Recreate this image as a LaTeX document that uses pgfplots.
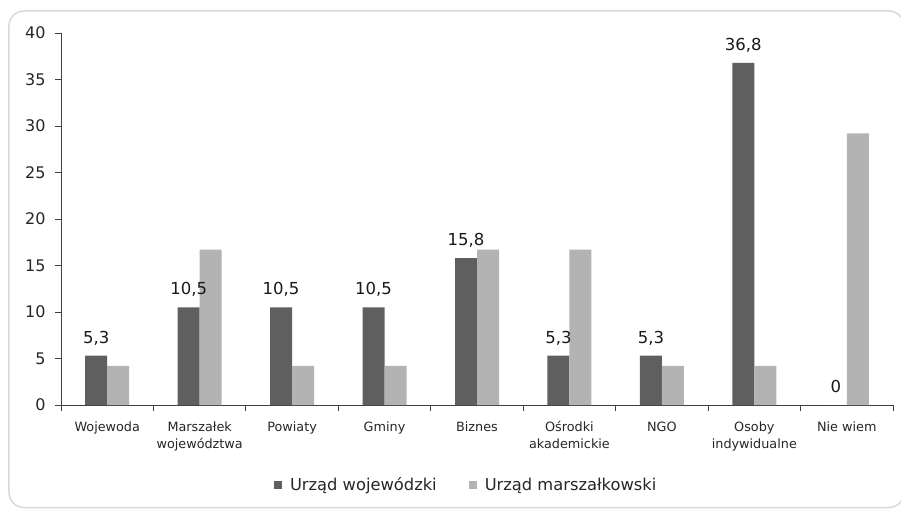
\documentclass[border=0pt]{standalone}
\usepackage{pgfplots}
\pgfplotsset{compat=1.18}
\usepackage{fontspec}
\setmainfont{DejaVu Sans}
\definecolor{darkbar}{HTML}{5F5F5F}
\definecolor{lightbar}{HTML}{B3B3B3}
\definecolor{axcol}{HTML}{404040}
\definecolor{framecol}{HTML}{D9D9D9}
\begin{document}
\begin{tikzpicture}
\useasboundingbox (-61pt,-103pt) rectangle (840pt,405pt);
\draw[framecol, line width=1.5pt, rounded corners=15pt] (-52pt,-102.5pt) rectangle (843pt,394pt);
\begin{axis}[
  at={(0pt,0pt)}, anchor=south west,
  width=832pt, height=372pt, scale only axis,
  ybar, bar width=22pt,
  xmin=-0.5, xmax=8.5, ymin=0, ymax=40,
  ytick={0,5,...,40},
  xtick={-0.5,0.5,...,8.5},
  x tick label as interval,
  xticklabels={Wojewoda,{Marszałek\\województwa},Powiaty,Gminy,Biznes,{Ośrodki\\akademickie},NGO,{Osoby\\indywidualne},Nie wiem},
  axis x line*=bottom, axis y line*=left,
  axis line style={axcol, line width=0.8pt, -},
  tick style={axcol, line width=0.8pt},
  tick align=outside, major tick length=6pt,
  /pgf/number format/assume math mode=true,
  yticklabel style={font=\fontsize{16}{18}\selectfont, text=black!85, xshift=-6pt},
  xticklabel style={font=\fontsize{12.8}{17}\selectfont, align=center, text=black!85, anchor=north, yshift=-7pt},
  nodes near coords style={font=\fontsize{16.5}{18}\selectfont, anchor=base, yshift=12.7pt, inner sep=0pt, text=black!90},
  legend style={at={(0.487,-0.215)}, anchor=center, draw=none, legend columns=2,
    font=\fontsize{16.3}{18}\selectfont, text=black!85,
    /tikz/every odd column/.append style={column sep=6pt},
    /tikz/every even column/.append style={column sep=30pt}},
  legend image code/.code={\fill[#1] (0pt,-4pt) rectangle (8pt,4pt);},
]
\addplot[fill=darkbar, draw=none, bar shift=-11pt,
  nodes near coords, /pgf/number format/.cd, use comma, fixed, precision=1]
  coordinates {(0,5.3) (1,10.5) (2,10.5) (3,10.5) (4,15.8) (5,5.3) (6,5.3) (7,36.8) (8,0)};
\addplot[fill=lightbar, draw=none, bar shift=11pt]
  coordinates {(0,4.2) (1,16.7) (2,4.2) (3,4.2) (4,16.7) (5,16.7) (6,4.2) (7,4.2) (8,29.2)};
\legend{Urząd wojewódzki, Urząd marszałkowski}
\end{axis}
\end{tikzpicture}
\end{document}
